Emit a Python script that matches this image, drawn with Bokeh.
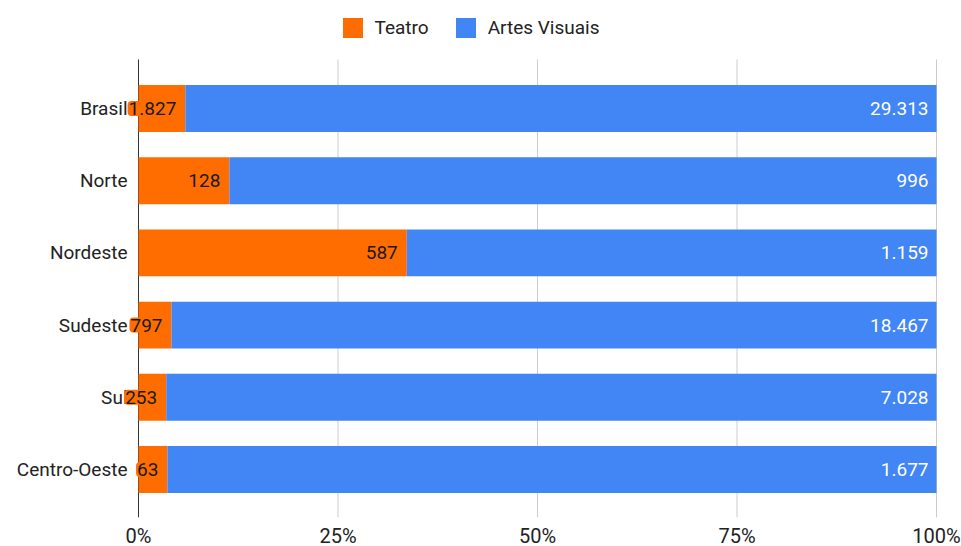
from bokeh.plotting import figure
from bokeh.models import (ColumnDataSource, Range1d, FixedTicker, PrintfTickFormatter,
                          Legend, LegendItem)
from bokeh.core.properties import value
from bokeh.embed import file_html
from bokeh.resources import INLINE

categories = ["Brasil", "Norte", "Nordeste", "Sudeste", "Sul", "Centro-Oeste"]
teatro = [1827, 128, 587, 797, 253, 63]
artes_visuais = [29313, 996, 1159, 18467, 7028, 1677]
x_ticks = [0, 25, 50, 75, 100]

ORANGE = "#ff6d01"
BLUE = "#4285f4"
FONT = "Roboto"
FS = "19px"

def fmt(v):
    return f"{v:,}".replace(",", ".")

n = len(categories)
ys = list(range(n))
tot = [t + a for t, a in zip(teatro, artes_visuais)]
t_pct = [t / s * 100 for t, s in zip(teatro, tot)]
src = ColumnDataSource(dict(
    y=ys,
    cat=categories,
    zero=[0] * n,
    t_end=t_pct,
    a_end=[100] * n,
    t_label=[fmt(v) for v in teatro],
    a_label=[fmt(v) for v in artes_visuais],
))

# layout constants (pixels -> data)
PX_PER_PCT = 7.98       # 0% at x=138, 100% at x=936
PX_PER_ROW = 72.2
grid_top = -0.679
y_bottom = n - 1 + 0.665
y_top = -108 / PX_PER_ROW

p = figure(frame_width=961, frame_height=517, output_backend="svg", toolbar_location=None,
           x_range=Range1d(-138 / PX_PER_PCT, (961 - 138) / PX_PER_PCT),
           y_range=Range1d(y_bottom, y_top),
           min_border_left=0, min_border_right=0, min_border_top=0,
           min_border_bottom=0, outline_line_color=None)

# grid lines
gsrc = ColumnDataSource(dict(x=x_ticks[1:], y0=[grid_top] * (len(x_ticks) - 1),
                             y1=[y_bottom] * (len(x_ticks) - 1)))
p.segment(x0="x", x1="x", y0="y0", y1="y1", source=gsrc, line_color="#cccccc", line_width=1)
p.segment(x0=[x_ticks[0]], x1=[x_ticks[0]], y0=[grid_top], y1=[y_bottom],
          line_color="#333333", line_width=1)

r_t = p.hbar(y="y", left="zero", right="t_end", height=0.65, source=src,
             fill_color=ORANGE, line_color=None)
r_a = p.hbar(y="y", left="t_end", right="a_end", height=0.65, source=src,
             fill_color=BLUE, line_color=None)

# category labels
p.text(x="zero", y="y", text="cat", source=src, x_offset=-11,
       text_align="right", text_baseline="middle", text_font=value(FONT),
       text_font_size=value(FS), text_color="#222222")

p.text(x="t_end", y="y", text="t_label", source=src, x_offset=-8,
       text_align="right", text_baseline="middle", text_font=value(FONT),
       text_font_size=value(FS), text_color="#1a1a1a",
       background_fill_color=ORANGE, padding=1, border_radius=4)
p.text(x="a_end", y="y", text="a_label", source=src, x_offset=-8,
       text_align="right", text_baseline="middle", text_font=value(FONT),
       text_font_size=value(FS), text_color="#ffffff")

p.xgrid.grid_line_color = None
p.ygrid.grid_line_color = None
p.yaxis.visible = False

p.xaxis.ticker = FixedTicker(ticks=x_ticks)
p.xaxis.formatter = PrintfTickFormatter(format="%d%%")
p.xaxis.axis_line_color = None
p.xaxis.major_tick_line_color = None
p.xaxis.minor_tick_line_color = None
p.xaxis.major_tick_out = 0
p.xaxis.major_tick_in = 0
p.xaxis.major_label_standoff = 6
p.xaxis.major_label_text_font = FONT
p.xaxis.major_label_text_font_size = "20px"
p.xaxis.major_label_text_color = "#222222"

legend = Legend(items=[LegendItem(label="Teatro", renderers=[r_t]),
                       LegendItem(label="Artes Visuais", renderers=[r_a])],
                orientation="horizontal", location=(339.5, 477.5),
                glyph_width=25, glyph_height=25, label_standoff=10, spacing=24,
                label_text_font=FONT, label_text_font_size=FS,
                label_text_color="#222222", border_line_color=None,
                background_fill_alpha=0, padding=0, margin=0)
p.add_layout(legend)

open("out.html", "w").write(file_html(p, INLINE))
